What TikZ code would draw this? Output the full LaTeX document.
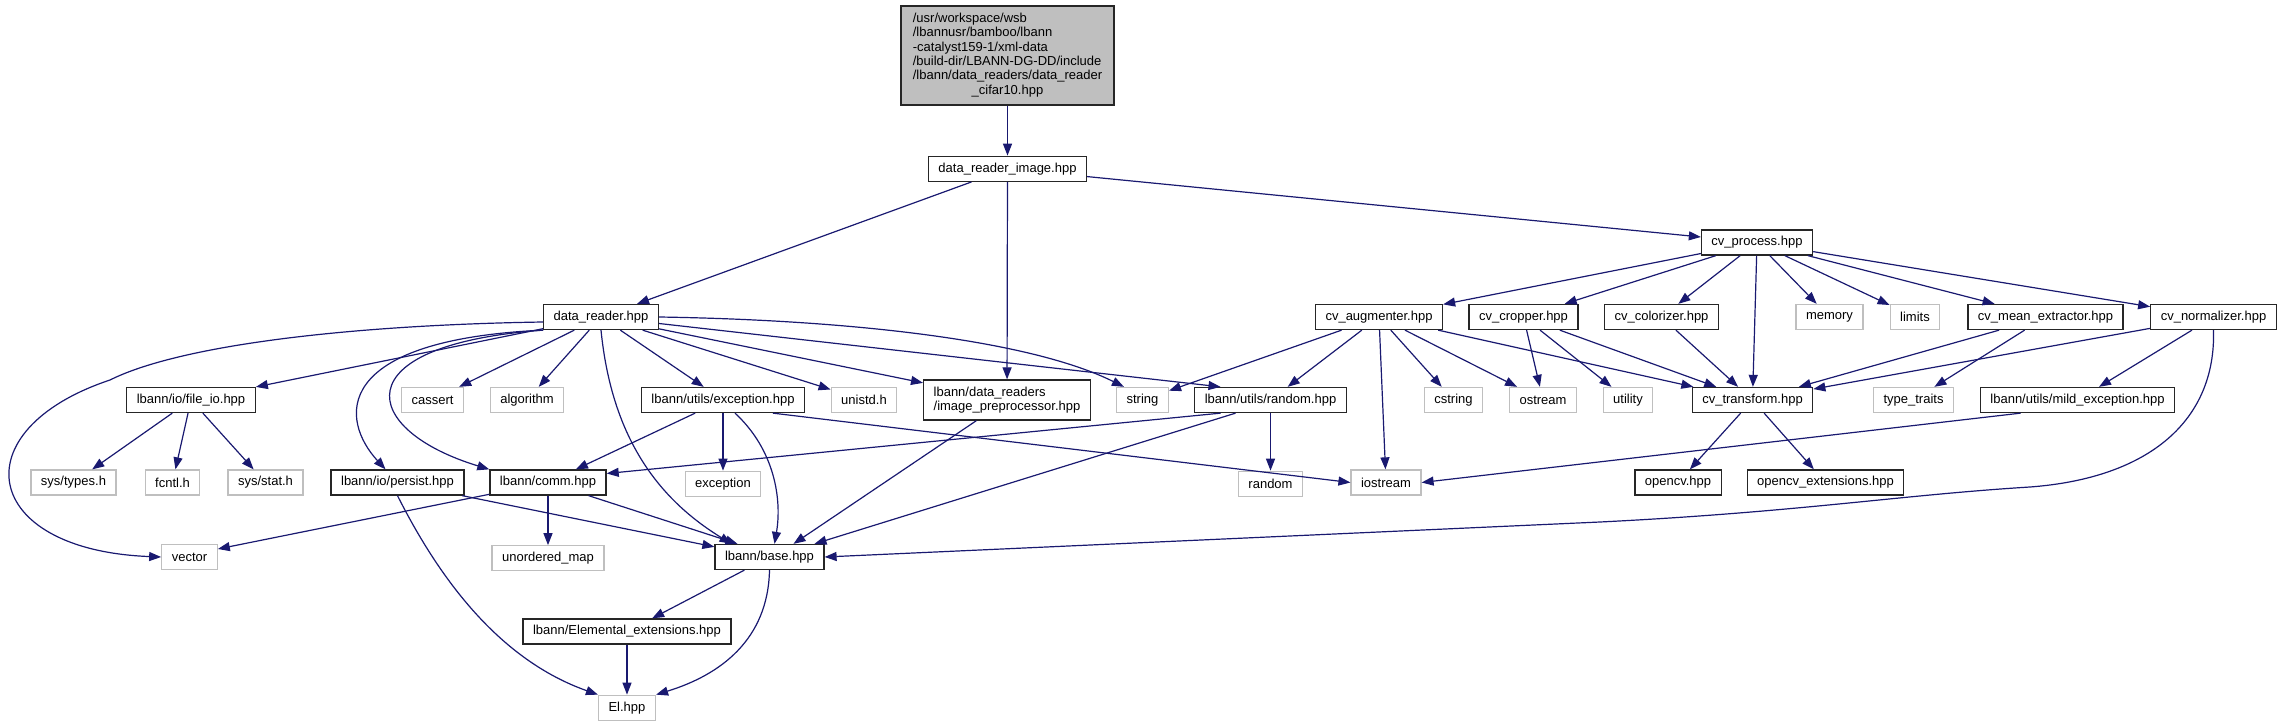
\documentclass[tikz,border=0pt]{standalone}
\usepackage{fontspec}
\setmainfont{Liberation Sans}
\usetikzlibrary{arrows.meta,positioning}
\definecolor{edgeblue}{RGB}{25,25,112}
\definecolor{sysgrey}{RGB}{191,191,191}
\tikzset{
  hv/.style = {draw=black!85, line width=1.3pt, fill=white, rectangle, minimum height=25pt, inner xsep=10pt, inner ysep=1pt, font=\fontsize{13}{14.3}\selectfont},
  sv/.style = {hv, draw=sysgrey},
  rv/.style = {hv, fill=sysgrey, minimum width=213pt, minimum height=99pt},
  arrow/.style = {draw=edgeblue, line width=1.2pt, -{Triangle[length=12pt,width=9pt]}}
}
\begin{document}
\begin{tikzpicture}[x=1pt,y=-1pt]
  \useasboundingbox (0,0) rectangle (2283,725);
  % top
  \node[rv] (root) at (1007.5,55.5) {\begin{tabular}{@{}l@{}}/usr/workspace/wsb\\/lbannusr/bamboo/lbann\\-catalyst159-1/xml-data\\/build-dir/LBANN-DG-DD/include\\/lbann/data\_readers/data\_reader\\\multicolumn{1}{@{}c@{}}{\_cifar10.hpp}\end{tabular}};
  \node[hv, below=50pt of root] (dri) {data\_reader\_image.hpp};
  \node[hv] (cvp) at (1757,242.5) {cv\_process.hpp};
  % second row
  \node[hv] (dr) at (601,317) {data\_reader.hpp};
  \node[hv] (cvaug) at (1379,317) {cv\_augmenter.hpp};
  \node[hv] (cvcrop) at (1523.5,317) {cv\_cropper.hpp};
  \node[hv] (cvcol) at (1661.5,317) {cv\_colorizer.hpp};
  \node[sv] (memory) at (1829.5,317) {memory};
  \node[sv] (limits) at (1915,317) {limits};
  \node[hv] (cvmean) at (2045.5,317) {cv\_mean\_extractor.hpp};
  \node[hv] (cvnorm) at (2213.5,317) {cv\_normalizer.hpp};
  % third row
  \node[hv] (fileio) at (191,400) {lbann/io/file\_io.hpp};
  \node[sv] (cassert) at (432.5,400) {cassert};
  \node[sv] (algorithm) at (527,400) {algorithm};
  \node[hv] (exc) at (723,400) {lbann/utils/exception.hpp};
  \node[sv] (unistd) at (864,400) {unistd.h};
  \node[hv, align=left, minimum height=40pt] (imgpre) at (1007,400) {lbann/data\_readers\\/image\_preprocessor.hpp};
  \node[sv] (string) at (1142.5,400) {string};
  \node[hv] (rnd) at (1270.5,400) {lbann/utils/random.hpp};
  \node[sv] (cstring) at (1453.5,400) {cstring};
  \node[sv] (ostream) at (1543,400) {ostream};
  \node[sv] (utility) at (1628,400) {utility};
  \node[hv] (cvtr) at (1752.5,400) {cv\_transform.hpp};
  \node[sv] (typetraits) at (1913.5,400) {type\_traits};
  \node[hv] (mildexc) at (2077.5,400) {lbann/utils/mild\_exception.hpp};
  % fourth row
  \node[sv] (systypes) at (73.5,482.5) {sys/types.h};
  \node[sv] (fcntl) at (172.5,482.5) {fcntl.h};
  \node[sv] (sysstat) at (265.5,482.5) {sys/stat.h};
  \node[hv] (persist) at (397.5,482.5) {lbann/io/persist.hpp};
  \node[hv] (comm) at (548,482.5) {lbann/comm.hpp};
  \node[sv, below=57.5pt of exc] (stdexc) {exception};
  \node[sv, below=57.5pt of rnd] (random) {random};
  \node[sv] (iostream) at (1386,482.5) {iostream};
  \node[hv] (opencv) at (1678,482.5) {opencv.hpp};
  \node[hv] (opencvext) at (1825.5,482.5) {opencv\_extensions.hpp};
  % bottom
  \node[sv] (vector) at (189.5,557) {vector};
  \node[sv, below=49.5pt of comm] (umap) {unordered\_map};
  \node[hv] (base) at (769.5,557) {lbann/base.hpp};
  \node[hv] (elext) at (627,631.5) {lbann/Elemental\_extensions.hpp};
  \node[sv, below=50pt of elext] (el) {El.hpp};

  % edges from the top
  \draw[arrow] (root) -- (dri);
  \draw[arrow] (dri) -- (dr);
  \draw[arrow] (dri) -- (imgpre);
  \draw[arrow] (dri) -- (cvp);
  % data_reader.hpp
  \draw[arrow] ([yshift=-5pt]dr.west) .. controls (350,325) and (180,345) .. (110,380) .. controls (-40,430) and (-20,550) .. (vector.west);
  \draw[arrow] (dr) -- (fileio);
  \draw[arrow] (dr.south west) .. controls (330,340) and (340,420) .. ([xshift=-12pt]persist.north);
  \draw[arrow] (dr.south west) .. controls (340,345) and (360,430) .. (comm.north west);
  \draw[arrow] (dr) -- (cassert);
  \draw[arrow] (dr) -- (algorithm);
  \draw[arrow] (dr.south) .. controls (612,440) and (660,500) .. ([xshift=-38pt]base.north);
  \draw[arrow] (dr) -- (exc);
  \draw[arrow] (dr) -- (unistd);
  \draw[arrow] (dr) -- (imgpre);
  \draw[arrow] (dr.east) .. controls (850,320) and (1030,340) .. ([xshift=8pt]string.north west);
  \draw[arrow] (dr) -- ([xshift=-50pt]rnd.north);
  % exception.hpp
  \draw[arrow] (exc) -- (comm);
  \draw[arrow] (exc) -- (stdexc);
  \draw[arrow] ([xshift=12pt]exc.south) .. controls (775,450) and (782,500) .. ([xshift=5pt]base.north);
  \draw[arrow] ([xshift=50pt]exc.south) -- (iostream.west);
  % image_preprocessor.hpp
  \draw[arrow] (imgpre) -- ([xshift=24pt]base.north);
  % random.hpp
  \draw[arrow] ([xshift=-50pt]rnd.south) -- ([yshift=9pt]comm.east);
  \draw[arrow] (rnd) -- (random);
  \draw[arrow] ([xshift=-35pt]rnd.south) -- ([xshift=45pt]base.north);
  % file_io.hpp
  \draw[arrow] (fileio) -- (systypes);
  \draw[arrow] (fileio) -- (fcntl);
  \draw[arrow] (fileio) -- (sysstat);
  % persist.hpp
  \draw[arrow] (persist) -- ([yshift=-3pt]base.north west);
  \draw[arrow] (persist.south) .. controls (440,580) and (500,660) .. (el.north west);
  % comm.hpp
  \draw[arrow] (comm) -- ([yshift=8pt]vector.east);
  \draw[arrow] (comm) -- (umap);
  \draw[arrow] (comm) -- ([xshift=-32pt]base.north);
  % base.hpp
  \draw[arrow] (base) -- (elext);
  \draw[arrow] (base.south) .. controls (768,640) and (720,675) .. (el.north east);
  \draw[arrow] (elext) -- (el);
  % cv_process.hpp
  \draw[arrow] (cvp) -- (cvaug);
  \draw[arrow] (cvp) -- (cvcrop);
  \draw[arrow] (cvp) -- (cvcol);
  \draw[arrow] (cvp) -- (cvtr);
  \draw[arrow] (cvp) -- (memory);
  \draw[arrow] (cvp) -- (limits);
  \draw[arrow] (cvp) -- (cvmean);
  \draw[arrow] (cvp) -- (cvnorm);
  % cv_augmenter.hpp
  \draw[arrow] (cvaug) -- (string);
  \draw[arrow] (cvaug) -- (rnd);
  \draw[arrow] (cvaug) -- (iostream);
  \draw[arrow] (cvaug) -- (cstring);
  \draw[arrow] (cvaug) -- (ostream);
  \draw[arrow] (cvaug) -- (cvtr);
  % cv_cropper.hpp, cv_colorizer.hpp
  \draw[arrow] (cvcrop) -- (ostream);
  \draw[arrow] (cvcrop) -- (utility);
  \draw[arrow] (cvcrop) -- (cvtr);
  \draw[arrow] (cvcol) -- (cvtr);
  % cv_mean_extractor.hpp, cv_normalizer.hpp
  \draw[arrow] (cvmean) -- (cvtr);
  \draw[arrow] (cvmean) -- (typetraits);
  \draw[arrow] (cvnorm) -- (cvtr);
  \draw[arrow] (cvnorm) -- (mildexc);
  \draw[arrow] (cvnorm.south) .. controls (2216,420) and (2150,478) .. (2030,487) .. controls (1900,495) and (1800,512) .. (1600,522) -- (base.east);
  % cv_transform.hpp, mild_exception.hpp
  \draw[arrow] (cvtr) -- (opencv);
  \draw[arrow] (cvtr) -- (opencvext);
  \draw[arrow] ([xshift=-57pt]mildexc.south) -- (iostream.east);
\end{tikzpicture}
\end{document}
